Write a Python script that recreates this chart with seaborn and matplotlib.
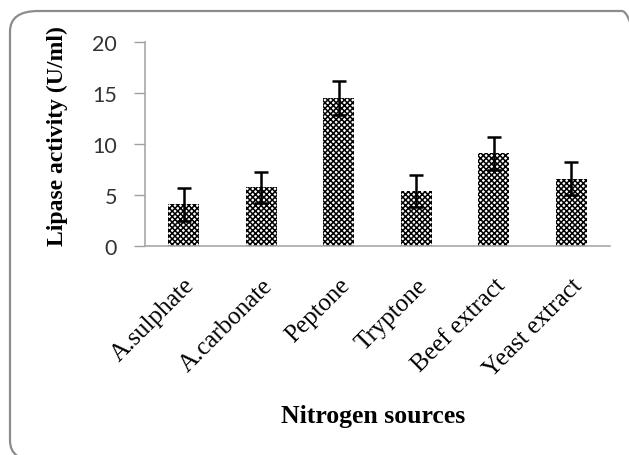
import matplotlib
matplotlib.use('Agg')
import matplotlib.pyplot as plt
import seaborn as sns
import pandas as pd
from matplotlib.patches import FancyBboxPatch

# data
sources = ['A.sulphate', 'A.carbonate', 'Peptone', 'Tryptone', 'Beef extract', 'Yeast extract']
activity = [4.1, 5.75, 14.5, 5.4, 9.1, 6.6]
errors = [1.6, 1.55, 1.7, 1.6, 1.6, 1.6]
yticks = [0, 5, 10, 15, 20]

df = pd.DataFrame({'source': sources, 'activity': activity})

sns.set_style('white')
plt.rcParams['hatch.linewidth'] = 1.1
plt.rcParams['hatch.color'] = 'black'

fig = plt.figure(figsize=(6.29, 4.56), dpi=100)

# rounded chart border, runs off the right and bottom edges
border = FancyBboxPatch((10 / 629, 1 - 462 / 456), 640 / 629, 450 / 456,
                        boxstyle='round,pad=0,rounding_size=0.045',
                        transform=fig.transFigure, facecolor='none',
                        edgecolor='#8c8c8c', linewidth=1.6, zorder=-1)
fig.patches.append(border)

ax = fig.add_axes([145 / 629, 1 - 247 / 456, 465 / 629, 204 / 456])
ax.patch.set_alpha(0)

sns.barplot(data=df, x='source', y='activity', ax=ax, errorbar=None,
            color='white', width=0.4, edgecolor='black', linewidth=0,
            hatch='xxxxxx')
ax.errorbar(x=range(len(sources)), y=activity, yerr=errors, fmt='none',
            ecolor='black', elinewidth=1.8, capsize=5, capthick=1.8, zorder=5)

ax.set_ylim(0, 20)
ax.set_xlim(-0.5, len(sources) - 0.5)
ax.set_yticks(yticks)
ax.set_yticklabels([str(t) for t in yticks], fontfamily='Lato', fontsize=15.5, color='#333333')
ax.tick_params(axis='y', left=True, length=8, width=1, color='#a0a0a0', pad=12)
ax.tick_params(axis='x', bottom=False, length=0, pad=20)
ax.set_xticks(range(len(sources)))
ax.set_xticklabels(sources, rotation=45, ha='right', rotation_mode='anchor',
                   fontfamily='Liberation Serif', fontsize=18, color='black')

for s in ['top', 'right']:
    ax.spines[s].set_visible(False)
for s in ['left', 'bottom']:
    ax.spines[s].set_color('#a8a8a8')
    ax.spines[s].set_linewidth(1.2)

ax.set_xlabel('')
ax.set_ylabel('')
fig.text(373 / 629, 1 - 417 / 456, 'Nitrogen sources', ha='center', va='center',
         fontfamily='Liberation Serif', fontweight='bold', fontsize=18.5, color='black')
fig.text(57 / 629, 1 - 136 / 456, 'Lipase activity (U/ml)', ha='center', va='center',
         rotation=90, fontfamily='Liberation Serif', fontweight='bold', fontsize=17,
         color='black')

fig.savefig('out.png', dpi=100)
